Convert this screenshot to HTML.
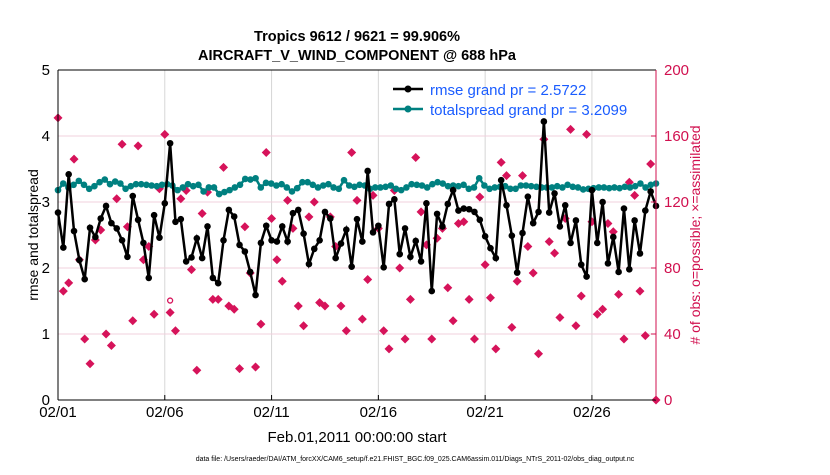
<!DOCTYPE html>
<html><head><meta charset="utf-8"><style>
body{margin:0;background:#fff}
svg text{font-family:"Liberation Sans",sans-serif}
</style></head><body>
<svg id="c" width="830" height="470" xmlns="http://www.w3.org/2000/svg">
<rect width="830" height="470" fill="#fff"/>
<text x="357" y="41" text-anchor="middle" font-size="14.5" font-weight="bold">Tropics 9612 / 9621 = 99.906%</text>
<text x="357" y="60" text-anchor="middle" font-size="14.5" font-weight="bold">AIRCRAFT_V_WIND_COMPONENT @ 688 hPa</text>
<g id="grid"></g><g id="obs"></g><g id="lines"></g><g id="axes"></g>
<text transform="translate(38,235) rotate(-90)" text-anchor="middle" font-size="14">rmse and totalspread</text>
<text transform="translate(700,235) rotate(-90)" text-anchor="middle" font-size="14" fill="#d1104f"># of obs: o=possible; ×=assimilated</text>
<text x="357" y="442" text-anchor="middle" font-size="15">Feb.01,2011 00:00:00 start</text>
<text x="415" y="461" text-anchor="middle" font-size="7">data file: /Users/raeder/DAI/ATM_forcXX/CAM6_setup/f.e21.FHIST_BGC.f09_025.CAM6assim.011/Diags_NTrS_2011-02/obs_diag_output.nc</text>
<g>
<line x1="393" y1="89" x2="423" y2="89" stroke="#000" stroke-width="2.5"/><circle cx="408" cy="89" r="3.5" fill="#000"/>
<text x="430" y="95" font-size="15" fill="#1a5cff">rmse grand pr = 2.5722</text>
<line x1="393" y1="109" x2="423" y2="109" stroke="#008080" stroke-width="2.5"/><circle cx="408" cy="109" r="3.5" fill="#008080"/>
<text x="430" y="115" font-size="15" fill="#1a5cff">totalspread grand pr = 3.2099</text>
</g>
</svg>
<script>
const xTickLabels=["02/01","02/06","02/11","02/16","02/21","02/26"];
const xTickDays=[0,5,10,15,20,25];
const yTicksLeft=[0,1,2,3,4,5];
const yTicksRight=[0,40,80,120,160,200];
const rmse=[2.84,2.31,3.42,2.56,2.12,1.83,2.61,2.47,2.75,2.94,2.68,2.60,2.42,2.17,3.09,2.73,2.38,1.85,2.80,2.46,2.98,3.89,2.70,2.74,2.10,2.16,2.45,2.15,2.63,1.85,1.77,2.42,2.88,2.78,2.35,2.25,1.94,1.59,2.38,2.64,
2.42,2.40,2.63,2.40,2.83,2.88,2.52,2.06,2.29,2.42,2.85,2.75,2.15,2.37,2.58,2.02,2.74,2.40,3.47,2.54,2.64,2.01,2.97,3.04,2.21,2.60,2.17,2.41,2.10,2.98,1.65,2.82,2.63,2.97,3.18,2.87,2.90,
2.89,2.85,2.73,2.48,2.30,2.15,3.33,2.95,2.49,1.93,2.53,3.08,2.68,2.85,4.22,2.84,3.13,2.63,2.95,2.38,2.72,2.05,1.87,3.18,2.38,3.00,2.07,2.47,1.94,2.90,1.98,2.72,2.22,2.87,3.16,2.94];
const spread=[3.18,3.28,3.22,3.26,3.32,3.26,3.2,3.24,3.3,3.34,3.27,3.31,3.28,3.2,3.24,3.27,3.27,3.26,3.25,3.24,3.26,3.27,3.25,3.18,3.22,3.27,3.24,3.26,3.16,3.22,3.22,3.12,3.15,3.18,3.22,3.26,3.35,3.34,3.36,3.22,
3.29,3.28,3.25,3.27,3.22,3.16,3.21,3.3,3.3,3.26,3.22,3.25,3.27,3.22,3.2,3.33,3.25,3.23,3.26,3.25,3.2,3.22,3.22,3.23,3.25,3.2,3.18,3.22,3.27,3.26,3.25,3.22,3.27,3.3,3.28,3.24,3.25,
3.24,3.26,3.2,3.22,3.36,3.25,3.2,3.22,3.23,3.24,3.2,3.2,3.25,3.25,3.24,3.23,3.22,3.22,3.22,3.24,3.22,3.26,3.23,3.22,3.19,3.2,3.21,3.22,3.22,3.21,3.22,3.21,3.23,3.22,3.24,3.28,3.22,3.26,3.28];
const obsCount=[171,66,71,146,85,37,22,97,103,40,33,122,155,105,48,154,85,93,52,128,161,53,42,122,127,79,18,113,126,61,61,141,57,55,19,105,77,20,46,150,
110,85,72,121,104,57,45,111,120,59,57,111,93,57,42,150,121,49,73,124,104,42,31,127,80,37,61,147,114,94,37,98,104,68,48,107,108,
61,37,123,82,62,31,144,136,44,72,136,93,77,28,158,96,89,50,110,164,45,63,161,108,52,55,107,102,64,37,132,124,66,39,143,0];
const NS="http://www.w3.org/2000/svg";
const X0=58,X1=656,Y0=400,Y1=70,NDAYS=28;
const xIdx=(i,n)=>X0+i*(X1-X0)/(n-1);
const xDay=d=>X0+d*(X1-X0)/NDAYS;
const yL=v=>Y0-v*(Y0-Y1)/5;
const yR=v=>Y0-v*(Y0-Y1)/200;
function mk(t,a,p){const e=document.createElementNS(NS,t);for(const k in a)e.setAttribute(k,a[k]);p.appendChild(e);return e;}
const grid=document.getElementById('grid'),obs=document.getElementById('obs'),lines=document.getElementById('lines'),axes=document.getElementById('axes');
xTickDays.forEach((d,i)=>{const g=mk('line',{x1:xDay(d),x2:xDay(d),y1:Y1,y2:Y0,stroke:'#d6d6d6','stroke-width':1},grid);


const t=mk('text',{x:xDay(d),y:417,'text-anchor':'middle','font-size':15},axes);t.textContent=xTickLabels[i];


mk('line',{x1:xDay(d),x2:xDay(d),y1:Y0,y2:Y0-5,stroke:'#000'},axes);});
yTicksLeft.forEach(v=>{if(v>0&&v<5){const g=mk('line',{x1:X0,x2:X1,y1:yL(v),y2:yL(v),stroke:'#f0d0dc','stroke-width':1},grid);

}
const t=mk('text',{x:50,y:yL(v)+5,'text-anchor':'end','font-size':15},axes);t.textContent=v;

});
yTicksRight.forEach(v=>{const t=mk('text',{x:664,y:yR(v)+5,'font-size':15,fill:'#d1104f'},axes);t.textContent=v;


mk('line',{x1:X1,x2:X1-5,y1:yR(v),y2:yR(v),stroke:'#d1104f'},axes);});
obsCount.forEach((v,i)=>{const x=xIdx(i,obsCount.length),y=yR(v);const p=mk('path',{d:`M${x} ${y-4.5}L${x+4.5} ${y}L${x} ${y+4.5}L${x-4.5} ${y}Z`,fill:'#d6135a'},obs);

});
const oc=mk('circle',{cx:xIdx(21,obsCount.length),cy:yR(53)-12,r:2.5,fill:'none',stroke:'#d6135a','stroke-width':1.3},obs);


function series(arr,col,name){const n=arr.length;const l=mk('polyline',{points:arr.map((v,i)=>xIdx(i,n)+','+yL(v)).join(' '),fill:'none',stroke:col,'stroke-width':2.5},lines);


arr.forEach((v,i)=>{const c=mk('circle',{cx:xIdx(i,n),cy:yL(v),r:3.3,fill:col},lines);

});}
series(spread,'#008080','totalspread');
series(rmse,'#000','rmse');
mk('line',{x1:X0,x2:X1,y1:Y1,y2:Y1,stroke:'#000'},axes);
mk('line',{x1:X0,x2:X1,y1:Y0,y2:Y0,stroke:'#000'},axes);
mk('line',{x1:X0,x2:X0,y1:Y1,y2:Y0,stroke:'#000'},axes);
mk('line',{x1:X1,x2:X1,y1:Y1,y2:Y0,stroke:'#d1104f'},axes);
</script>
</body></html>
